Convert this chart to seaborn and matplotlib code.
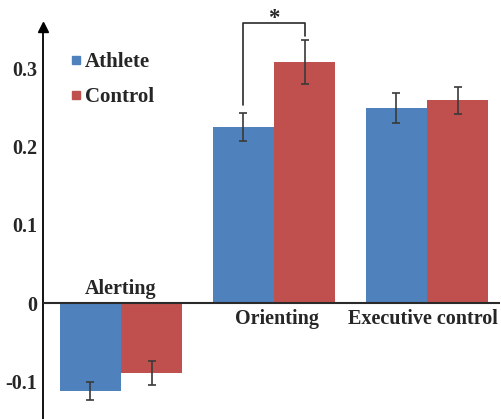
import matplotlib
matplotlib.use("Agg")
import matplotlib.pyplot as plt
from matplotlib.lines import Line2D
import seaborn as sns
import pandas as pd

# Attention network scores (mean and standard error) per group
tasks = ["Alerting", "Orienting", "Executive control"]
groups = ["Athlete", "Control"]
athlete_mean = [-0.112, 0.225, 0.249]
control_mean = [-0.089, 0.308, 0.259]
athlete_err = [0.0115, 0.018, 0.019]
control_err = [0.015, 0.028, 0.017]
y_ticks = [-0.1, 0, 0.1, 0.2, 0.3]
y_tick_labels = ["-0.1", "0", "0.1", "0.2", "0.3"]
colors = ["#4F81BD", "#C0504D"]

df = pd.DataFrame({
    "task": tasks * 2,
    "group": [groups[0]] * 3 + [groups[1]] * 3,
    "score": athlete_mean + control_mean,
})
errs = {groups[0]: athlete_err, groups[1]: control_err}

sns.set_style("white")
plt.rcParams["font.family"] = ["Liberation Serif", "DejaVu Serif"]
plt.rcParams["font.weight"] = "bold"
FS = 14.5

fig = plt.figure(figsize=(5.01, 4.19), dpi=100)
ax = fig.add_axes([43 / 501, 0.0, 457 / 501, 392 / 419])

sns.barplot(data=df, x="task", y="score", hue="group", order=tasks,
            hue_order=groups, palette=colors, errorbar=None, width=0.8,
            saturation=1, linewidth=0, ax=ax, legend=False)

# error bars at the bar centres
for cont, g in zip(ax.containers, groups):
    xs = [p.get_x() + p.get_width() / 2 for p in cont]
    ys = [p.get_height() for p in cont]
    ax.errorbar(xs, ys, yerr=errs[g], fmt="none", ecolor="#3a3a3a",
                elinewidth=1.2, capsize=3, capthick=1.2, zorder=5)

ax.set_xlim(-0.51, 2.477)
ax.set_ylim(-0.148, 0.3525)

# axes styling
for s in ["top", "right", "bottom"]:
    ax.spines[s].set_visible(False)
ax.spines["left"].set_color("black")
ax.spines["left"].set_linewidth(1.3)
ax.axhline(0, color="#2a2a2a", lw=1.5, zorder=3)
ax.plot(0, 1, marker="^", color="black", markersize=7,
        transform=ax.transAxes, clip_on=False)

ax.set_yticks(y_ticks)
ax.set_yticklabels(y_tick_labels, fontsize=FS, fontweight="bold")
ax.tick_params(axis="y", length=0, pad=4)
ax.set_xticks([])
ax.set_xlabel("")
ax.set_ylabel("")

# category labels next to the zero line
label_shift = [0, 2, -3]
for i, t in enumerate(tasks):
    below = athlete_mean[i] >= 0
    ax.annotate(t, (i, 0), xytext=(label_shift[i], -4 if below else 3),
                textcoords="offset points", ha="center",
                va="top" if below else "bottom",
                fontsize=FS, fontweight="bold")

# significance bracket for orienting
x_a = ax.containers[0][1].get_x() + ax.containers[0][1].get_width() / 2
x_c = ax.containers[1][1].get_x() + ax.containers[1][1].get_width() / 2
top_a = athlete_mean[1] + athlete_err[1] + 0.010
top_c = control_mean[1] + control_err[1] + 0.005
bracket = 0.3575
ax.plot([x_a, x_a, x_c, x_c], [top_a, bracket, bracket, top_c],
        color="#2a2a2a", lw=1.2, clip_on=False)
ax.text((x_a + x_c) / 2, bracket - 0.001, "*", ha="center", va="baseline",
        fontsize=FS + 2, fontweight="bold", clip_on=False)

handles = [Line2D([], [], marker="s", linestyle="none", color=c,
                  markersize=6) for c in colors]
ax.legend(handles, groups, loc="upper left", bbox_to_anchor=(0.040, 0.958),
          frameon=False, handlelength=0.6, handletextpad=0.15,
          labelspacing=0.75, borderaxespad=0,
          prop={"size": FS + 0.5, "weight": "bold"})

fig.savefig("out.png", dpi=100)
